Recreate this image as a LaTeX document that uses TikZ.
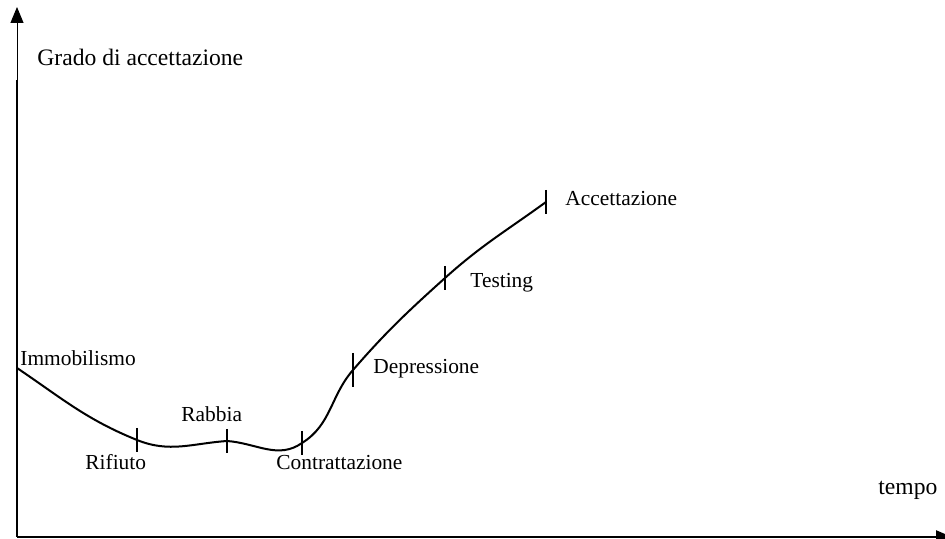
\documentclass[tikz,border=0pt]{standalone}
\usepackage{fontspec}
\setmainfont{Liberation Serif}
\usetikzlibrary{arrows.meta}
\begin{document}
\begin{tikzpicture}[x=0.5pt,y=0.5pt,
  axis/.style={line width=1.2pt},
  thinaxis/.style={line width=0.5pt},
  curve/.style={line width=1pt},
  tick/.style={line width=0.9pt},
  lbl/.style={inner sep=0pt,anchor=base west,font=\fontsize{10.7}{12}\selectfont},
  axlbl/.style={lbl,font=\fontsize{11.8}{14}\selectfont},
  tip/.style={-{Triangle[length=8pt,width=6.5pt]}}]
\useasboundingbox (0,0) rectangle (945,539);
% axes
\coordinate (O) at (17,2);
\coordinate (ybreak) at (17,459);
\coordinate (ytop) at (17,532);
\coordinate (xend) at (952,2);
\draw[axis] (O) -- (ybreak);
\draw[thinaxis,tip] (ybreak) -- (ytop);
\draw[axis,tip] (O) -- (xend);
% stages along the curve
\coordinate (S) at (17,171);
\coordinate (Rif) at (137,99);
\coordinate (Rab) at (227,98);
\coordinate (Con) at (302,96);
\coordinate (Dep) at (353,169);
\coordinate (Tes) at (445,261);
\coordinate (Acc) at (546,337);
\draw[curve] (S) to[out=-34,in=158] (Rif)
  to[out=-22,in=184] (Rab)
  to[out=-4,in=215] (Con)
  to[out=32,in=229] (Dep)
  to[out=49,in=222] (Tes)
  to[out=42,in=216] (Acc);
% tick marks
\foreach \p in {Rif,Rab,Con,Tes,Acc}
  \draw[tick] ([yshift=6pt]\p) -- ([yshift=-6pt]\p);
\draw[tick] ([yshift=8.5pt]Dep) -- ([yshift=-8.5pt]Dep);
% labels
\node[axlbl] (ylab) at (37,473) {Grado di accettazione};
\node[axlbl] (xlab) at (878,44) {tempo};
\node[lbl] (lImm) at (20,173) {Immobilismo};
\node[lbl] (lRab) at (181,117) {Rabbia};
\node[lbl] (lRif) at (85,69) {Rifiuto};
\node[lbl] (lCon) at (276,69) {Contrattazione};
\node[lbl] (lDep) at (373,165) {Depressione};
\node[lbl] (lTes) at (470,251) {Testing};
\node[lbl] (lAcc) at (565,333) {Accettazione};
\end{tikzpicture}
\end{document}
